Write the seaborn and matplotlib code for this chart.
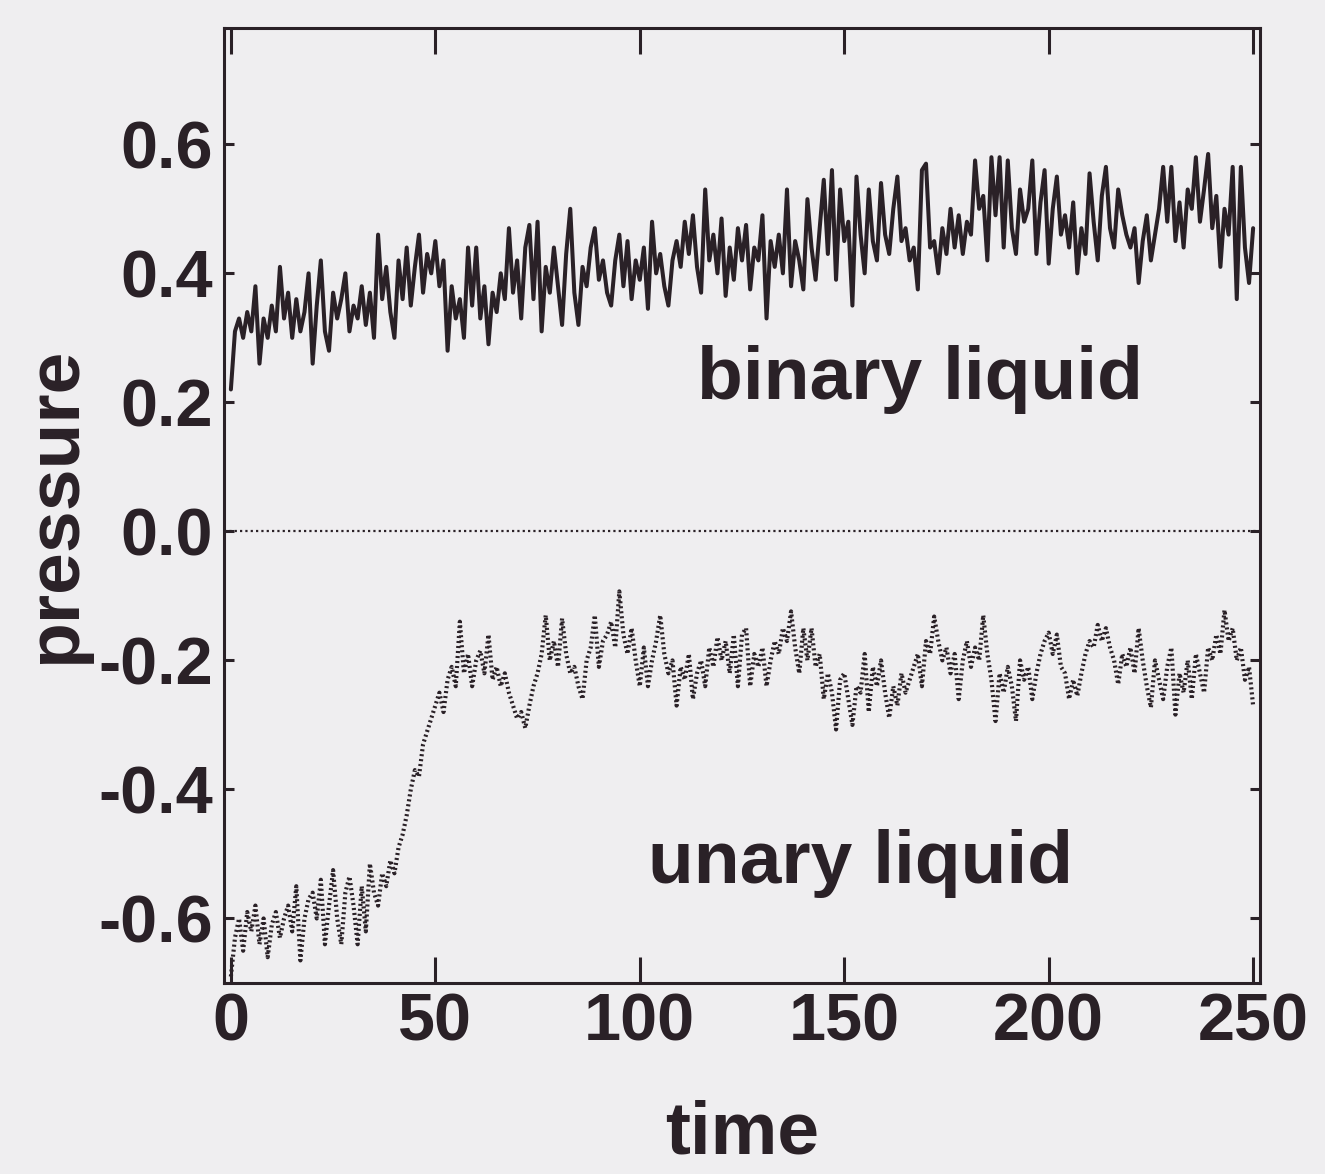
import numpy as np
import pandas as pd
import matplotlib
matplotlib.use("Agg")
import matplotlib.pyplot as plt
import seaborn as sns

# ---- data (time step = 1) ----
time = np.arange(0, 251)

binary_liquid = [
    0.22, 0.31, 0.33, 0.30, 0.34, 0.31, 0.38, 0.26, 0.33, 0.30,
    0.35, 0.31, 0.41, 0.33, 0.37, 0.30, 0.36, 0.31, 0.34, 0.40,
    0.26, 0.35, 0.42, 0.31, 0.28, 0.37, 0.33, 0.36, 0.40, 0.31,
    0.35, 0.33, 0.38, 0.32, 0.37, 0.30, 0.46, 0.36, 0.41, 0.34,
    0.30, 0.42, 0.36, 0.44, 0.35, 0.41, 0.46, 0.37, 0.43, 0.40,
    0.45, 0.38, 0.42, 0.28, 0.38, 0.33, 0.36, 0.30, 0.44, 0.35,
    0.44, 0.33, 0.38, 0.29, 0.37, 0.34, 0.40, 0.36, 0.47, 0.37,
    0.42, 0.33, 0.44, 0.475, 0.36, 0.48, 0.31, 0.41, 0.37, 0.44,
    0.38, 0.32, 0.43, 0.50, 0.37, 0.32, 0.41, 0.38, 0.44, 0.47,
    0.39, 0.42, 0.37, 0.35, 0.42, 0.46, 0.38, 0.45, 0.36, 0.42,
    0.39, 0.44, 0.345, 0.48, 0.40, 0.43, 0.38, 0.35, 0.42, 0.45,
    0.41, 0.48, 0.43, 0.49, 0.41, 0.37, 0.53, 0.42, 0.46, 0.40,
    0.485, 0.365, 0.44, 0.39, 0.47, 0.42, 0.475, 0.375, 0.44, 0.42,
    0.49, 0.33, 0.45, 0.41, 0.46, 0.40, 0.53, 0.38, 0.45, 0.42,
    0.375, 0.515, 0.44, 0.39, 0.47, 0.545, 0.43, 0.56, 0.39, 0.53,
    0.45, 0.48, 0.35, 0.55, 0.46, 0.40, 0.53, 0.45, 0.42, 0.54,
    0.46, 0.43, 0.50, 0.55, 0.45, 0.47, 0.42, 0.44, 0.375, 0.56,
    0.57, 0.44, 0.45, 0.40, 0.47, 0.43, 0.50, 0.44, 0.49, 0.43,
    0.48, 0.46, 0.575, 0.50, 0.52, 0.42, 0.58, 0.49, 0.58, 0.44,
    0.575, 0.47, 0.43, 0.53, 0.48, 0.50, 0.575, 0.43, 0.51, 0.56,
    0.415, 0.50, 0.55, 0.46, 0.49, 0.44, 0.51, 0.40, 0.47, 0.43,
    0.555, 0.48, 0.42, 0.52, 0.565, 0.47, 0.44, 0.53, 0.49, 0.46,
    0.44, 0.47, 0.385, 0.45, 0.49, 0.42, 0.46, 0.50, 0.565, 0.48,
    0.565, 0.45, 0.51, 0.44, 0.53, 0.50, 0.58, 0.48, 0.53, 0.585,
    0.47, 0.52, 0.41, 0.50, 0.46, 0.565, 0.36, 0.565, 0.44, 0.385,
    0.47,
]

unary_liquid = [
    -0.69, -0.63, -0.60, -0.65, -0.59, -0.62, -0.58, -0.64, -0.60, -0.66,
    -0.61, -0.59, -0.63, -0.60, -0.58, -0.62, -0.55, -0.665, -0.60, -0.57,
    -0.56, -0.60, -0.54, -0.64, -0.58, -0.525, -0.60, -0.64, -0.56, -0.535,
    -0.58, -0.64, -0.55, -0.62, -0.515, -0.56, -0.58, -0.53, -0.55, -0.51,
    -0.53, -0.49, -0.47, -0.44, -0.40, -0.37, -0.38, -0.33, -0.31, -0.29,
    -0.27, -0.25, -0.28, -0.23, -0.21, -0.24, -0.14, -0.22, -0.19, -0.24,
    -0.20, -0.185, -0.22, -0.16, -0.23, -0.21, -0.24, -0.22, -0.25, -0.27,
    -0.29, -0.28, -0.305, -0.27, -0.24, -0.22, -0.19, -0.13, -0.20, -0.17,
    -0.21, -0.135, -0.19, -0.22, -0.21, -0.24, -0.26, -0.20, -0.18, -0.13,
    -0.21, -0.17, -0.16, -0.14, -0.18, -0.093, -0.16, -0.19, -0.15, -0.20,
    -0.24, -0.18, -0.24, -0.20, -0.17, -0.13, -0.19, -0.22, -0.20, -0.27,
    -0.21, -0.23, -0.19, -0.26, -0.22, -0.20, -0.24, -0.18, -0.21, -0.164,
    -0.20, -0.17, -0.22, -0.16, -0.24, -0.16, -0.15, -0.24, -0.19, -0.21,
    -0.18, -0.24, -0.20, -0.17, -0.19, -0.15, -0.17, -0.124, -0.18, -0.22,
    -0.15, -0.20, -0.15, -0.21, -0.19, -0.26, -0.22, -0.25, -0.307, -0.23,
    -0.22, -0.26, -0.30, -0.24, -0.25, -0.19, -0.28, -0.21, -0.24, -0.20,
    -0.25, -0.289, -0.24, -0.27, -0.22, -0.25, -0.23, -0.21, -0.19, -0.24,
    -0.17, -0.19, -0.132, -0.17, -0.20, -0.18, -0.22, -0.19, -0.26, -0.20,
    -0.17, -0.21, -0.18, -0.20, -0.13, -0.19, -0.23, -0.294, -0.22, -0.25,
    -0.21, -0.24, -0.294, -0.20, -0.23, -0.21, -0.26, -0.22, -0.19, -0.17,
    -0.157, -0.19, -0.16, -0.21, -0.22, -0.26, -0.23, -0.255, -0.22, -0.19,
    -0.17, -0.18, -0.145, -0.17, -0.15, -0.18, -0.20, -0.237, -0.19, -0.21,
    -0.18, -0.22, -0.15, -0.20, -0.24, -0.273, -0.20, -0.23, -0.26, -0.21,
    -0.18, -0.284, -0.22, -0.25, -0.20, -0.26, -0.19, -0.22, -0.25, -0.18,
    -0.20, -0.16, -0.19, -0.122, -0.17, -0.15, -0.20, -0.18, -0.23, -0.21,
    -0.27,
]

x_ticks = [0, 50, 100, 150, 200, 250]
y_ticks = [-0.6, -0.4, -0.2, 0.0, 0.2, 0.4, 0.6]
y_ticklabels = ["-0.6", "-0.4", "-0.2", "0.0", "0.2", "0.4", "0.6"]

# ---- style ----
sns.set_theme(style="ticks")
plt.rcParams["font.family"] = ["Liberation Sans", "DejaVu Sans"]
plt.rcParams["font.weight"] = "bold"

ink = "#2a2127"
bg = "#efeef0"

df_b = pd.DataFrame({"time": time, "pressure": binary_liquid})
df_u = pd.DataFrame({"time": time, "pressure": unary_liquid})

fig = plt.figure(figsize=(13.25, 11.74), dpi=100, facecolor=bg)
ax = fig.add_axes([0.169, 0.1627, 0.782, 0.8133])
ax.set_facecolor(bg)

ax.axhline(0.0, color=ink, lw=1.6, ls=(0, (1.0, 1.4)), zorder=1)

sns.lineplot(data=df_b, x="time", y="pressure", ax=ax, color=ink,
             lw=2.9, legend=False, estimator=None)
sns.lineplot(data=df_u, x="time", y="pressure", ax=ax, color=ink,
             lw=3.0, ls=(0, (0.5, 0.7)), legend=False, estimator=None)

ax.set_xlim(-1.7, 251.7)
ax.set_ylim(-0.70, 0.78)
ax.set_xticks(x_ticks)
ax.set_yticks(y_ticks)
ax.set_yticklabels(y_ticklabels)

for side in ["left", "right", "top", "bottom"]:
    ax.spines[side].set_visible(True)
    ax.spines[side].set_color(ink)
    ax.spines[side].set_linewidth(2.2)

ax.tick_params(axis="x", direction="in", length=19, width=2.2, color=ink,
               top=True, bottom=True, labelsize=48, labelcolor=ink, pad=7)
ax.tick_params(axis="y", direction="in", length=7, width=2.2, color=ink,
               left=True, right=True, labelsize=48, labelcolor=ink, pad=8)
for lab in ax.get_xticklabels() + ax.get_yticklabels():
    lab.set_fontweight("bold")

ax.set_xlabel("time", fontsize=54, fontweight="bold", color=ink, labelpad=32)
ax.set_ylabel("pressure", fontsize=54, fontweight="bold", color=ink, labelpad=6)

ax.text(168.5, 0.205, "binary liquid", fontsize=54, fontweight="bold",
        color=ink, ha="center", va="baseline")
ax.text(154, -0.545, "unary liquid", fontsize=54, fontweight="bold",
        color=ink, ha="center", va="baseline")

fig.savefig("out.png", dpi=100, facecolor=bg)
